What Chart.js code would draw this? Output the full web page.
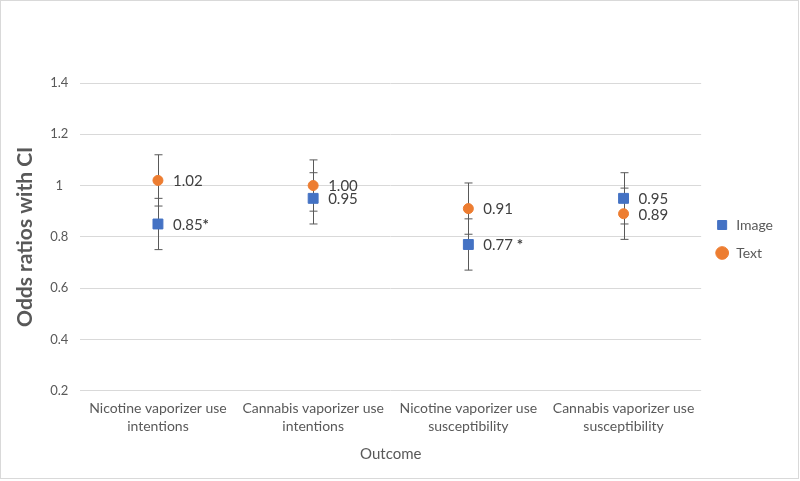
<!DOCTYPE html>
<html>
<head>
<meta charset="utf-8">
<script src="https://cdn.jsdelivr.net/npm/chart.js@4.4.1/dist/chart.umd.min.js"></script>
<style>
  html, body { margin: 0; padding: 0; background: #fff; }
  #wrap { position: relative; width: 797px; height: 477px; border: 1px solid #d9d9d9; }
</style>
</head>
<body>
<div id="wrap"><canvas id="chart"></canvas></div>
<script>
// chart data
const categories = [
  ['Nicotine vaporizer use', 'intentions'],
  ['Cannabis vaporizer use', 'intentions'],
  ['Nicotine vaporizer use', 'susceptibility'],
  ['Cannabis vaporizer use', 'susceptibility']
]
const imageOR = [0.85, 0.95, 0.77, 0.95]
const imageLow = [0.75, 0.85, 0.67, 0.85]
const imageHigh = [0.95, 1.05, 0.87, 1.05]
const imageStars = ['*', '', ' *', '']

const textOR = [1.02, 1.00, 0.91, 0.89]
const textLow = [0.92, 0.90, 0.81, 0.79]
const textHigh = [1.12, 1.10, 1.01, 0.99]
const textStars = ['', '', '', '']

const yTicks = [0.2, 0.4, 0.6, 0.8, 1, 1.2, 1.4]

const FONT = 'Lato, "Open Sans", sans-serif'
const GREY = '#595959'

// error bars behind the markers
const errorBars = {
  id: 'errorBars',
  beforeDatasetsDraw(chart) {
    const ctx = chart.ctx
    const y = chart.scales.y
    ctx.save()
    ctx.strokeStyle = GREY
    ctx.lineWidth = 1
    chart.data.datasets.forEach((ds, i) => {
      const meta = chart.getDatasetMeta(i)
      meta.data.forEach((pt, j) => {
        const x = Math.round(pt.x) + 0.5
        const top = y.getPixelForValue(ds.high[j])
        const bot = y.getPixelForValue(ds.low[j])
        ctx.beginPath()
        ctx.moveTo(x, top); ctx.lineTo(x, bot)
        ctx.moveTo(x - 4, top); ctx.lineTo(x + 4, top)
        ctx.moveTo(x - 4, bot); ctx.lineTo(x + 4, bot)
        ctx.stroke()
      })
    })
    ctx.restore()
  }
}

// value labels to the right of each point
const valueLabels = {
  id: 'valueLabels',
  afterDatasetsDraw(chart) {
    const ctx = chart.ctx
    ctx.save()
    ctx.textBaseline = 'middle'
    ctx.fillStyle = '#404040'
    chart.data.datasets.forEach((ds, i) => {
      const meta = chart.getDatasetMeta(i)
      meta.data.forEach((pt, j) => {
        const txt = ds.data[j].toFixed(2)
        ctx.font = '15px ' + FONT
        const x = pt.x + 15
        ctx.fillText(txt, x, pt.y + 1)
        if (ds.stars[j]) {
          const w = ctx.measureText(txt).width
          ctx.font = 'bold 15px ' + FONT
          ctx.fillText(ds.stars[j], x + w, pt.y + 1)
        }
      })
    })
    ctx.restore()
  }
}

new Chart(document.getElementById('chart'), {
  type: 'line',
  data: {
    labels: categories,
    datasets: [{
      label: 'Image',
      data: imageOR,
      low: imageLow,
      high: imageHigh,
      stars: imageStars,
      showLine: false,
      pointStyle: 'rect',
      pointRadius: 7,
      pointBackgroundColor: '#4472C4',
      pointBorderColor: '#4472C4',
      backgroundColor: '#4472C4',
      borderColor: '#4472C4'
    }, {
      label: 'Text',
      data: textOR,
      low: textLow,
      high: textHigh,
      stars: textStars,
      showLine: false,
      pointStyle: 'circle',
      pointRadius: 5,
      pointBackgroundColor: '#ED7D31',
      pointBorderColor: '#ED7D31',
      backgroundColor: '#ED7D31',
      borderColor: '#ED7D31'
    }]
  },
  options: {
    responsive: true,
    maintainAspectRatio: false,
    animation: false,
    layout: { padding: { top: 82, right: 15, bottom: 15, left: 12 } },
    plugins: {
      legend: {
        position: 'right',
        align: 'start',
        // empty title only pushes the items down to where they sit in the original
        title: { display: true, text: '', font: { size: 10, lineHeight: 1 }, padding: { top: 111, bottom: 0 } },
        labels: {
          usePointStyle: true,
          boxWidth: 14,
          boxHeight: 9,
          padding: 14,
          color: GREY,
          font: { family: FONT, size: 14 }
        }
      },
      tooltip: { enabled: false }
    },
    scales: {
      x: {
        type: 'category',
        offset: true,
        grid: { display: false, drawTicks: false },
        border: { display: false },
        ticks: {
          color: GREY,
          maxRotation: 0,
          padding: 9,
          font: { family: FONT, size: 14, lineHeight: 1.3 }
        },
        title: {
          display: true,
          text: 'Outcome',
          color: GREY,
          padding: { top: 0, bottom: 0 },
          font: { family: FONT, size: 15 }
        }
      },
      y: {
        min: yTicks[0],
        max: yTicks[yTicks.length - 1],
        afterBuildTicks: axis => { axis.ticks = yTicks.map(v => ({ value: v })) },
        grid: { color: '#d9d9d9', drawTicks: false },
        border: { display: false },
        ticks: {
          color: GREY,
          padding: 12,
          crossAlign: 'center',
          font: { family: FONT, size: 13 },
          callback: v => String(v)
        },
        title: {
          display: true,
          text: 'Odds ratios with CI',
          color: GREY,
          padding: { top: 0, bottom: 0 },
          font: { family: FONT, size: 21, weight: 'bold' }
        }
      }
    }
  },
  plugins: [errorBars, valueLabels]
})
</script>
</body>
</html>
